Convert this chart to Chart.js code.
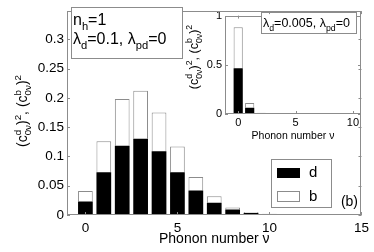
<!DOCTYPE html>
<html>
<head>
<meta charset="utf-8">
<script src="https://cdn.jsdelivr.net/npm/chart.js@4"></script>
<style>
html, body { margin: 0; padding: 0; background: #fff; }
#wrap { position: relative; width: 374px; height: 252px; }
#inset { position: absolute; left: 181px; top: 6px; z-index: 1; }
#main { position: absolute; left: 0; top: 0; z-index: 2; }
</style>
</head>
<body>
<div id="wrap">
  <canvas id="inset" width="181" height="136"></canvas>
  <canvas id="main" width="374" height="252"></canvas>
</div>
<script>
// main panel: n_h=1, lambda_d=0.1
const nu = [0, 1, 2, 3, 4, 5, 6, 7, 8, 9, 10, 11, 12];
const dMain = [0.023, 0.073, 0.118, 0.130, 0.109, 0.073, 0.042, 0.021, 0.0094, 0.0033, 0.0015, 0.0007, 0.0003];
const bMain = [0.018, 0.053, 0.080, 0.082, 0.066, 0.044, 0.023, 0.011, 0.0036, 0.0017, 0.0005, 0.0003, 0.0001];
const xTicksMain = [0, 5, 10, 15];
const yTicksMain = [0, 0.05, 0.1, 0.15, 0.2, 0.25, 0.3];

// inset: lambda_d=0.005
const nuInset = [0, 1, 2];
const dInset = [0.465, 0.064, 0.009];
const bInset = [0.417, 0.048, 0.003];
const xTicksInset = [0, 5, 10];
const yTicksInset = [0, 0.5, 1];

const FONT = '"Liberation Sans", Arial, sans-serif';
const AXIS = '#8c8c8c';

// draws text with super/subscripts; parts: {t} or {sup, sub}
function richWidth(ctx, parts, size) {
    let w = 0;
    parts.forEach(p => {
        if (p.t) { ctx.font = size + 'px ' + FONT; w += ctx.measureText(p.t).width; }
        else {
            ctx.font = (size * 0.7) + 'px ' + FONT;
            w += Math.max(p.sup ? ctx.measureText(p.sup).width : 0, p.sub ? ctx.measureText(p.sub).width : 0);
        }
    });
    return w;
}
function drawRich(ctx, x, y, parts, size) {
    ctx.textBaseline = 'alphabetic';
    ctx.textAlign = 'left';
    ctx.fillStyle = '#000';
    parts.forEach(p => {
        if (p.t) {
            ctx.font = size + 'px ' + FONT;
            ctx.fillText(p.t, x, y);
            x += ctx.measureText(p.t).width;
        } else {
            ctx.font = (size * 0.7) + 'px ' + FONT;
            let w = 0;
            if (p.sup) { ctx.fillText(p.sup, x, y - size * 0.45); w = ctx.measureText(p.sup).width; }
            if (p.sub) { ctx.fillText(p.sub, x, y + size * 0.3); w = Math.max(w, ctx.measureText(p.sub).width); }
            x += w;
        }
    });
}

const yLabelParts = [
    {t: '(c'}, {sup: 'd', sub: '0ν'}, {t: ')'}, {sup: '2'},
    {t: ', (c'}, {sup: 'b', sub: '0ν'}, {t: ')'}, {sup: '2'}
];

function framePlugin(extra) {
    return {
        id: 'frame',
        afterDraw(chart) {
            const ctx = chart.ctx, a = chart.chartArea, sx = chart.scales.x, sy = chart.scales.y;
            ctx.save();
            ctx.strokeStyle = AXIS;
            ctx.lineWidth = 1;
            ctx.strokeRect(Math.round(a.left) + 0.5, Math.round(a.top) + 0.5,
                Math.round(a.right - a.left) - 1, Math.round(a.bottom - a.top) - 1);
            ctx.beginPath();
            sx.ticks.forEach(t => {
                const p = Math.round(sx.getPixelForValue(t.value)) + 0.5;
                ctx.moveTo(p, a.bottom); ctx.lineTo(p, a.bottom - 3);
                ctx.moveTo(p, a.top); ctx.lineTo(p, a.top + 3);
            });
            sy.ticks.forEach(t => {
                const p = Math.round(sy.getPixelForValue(t.value)) + 0.5;
                ctx.moveTo(a.left, p); ctx.lineTo(a.left + 3, p);
                ctx.moveTo(a.right, p); ctx.lineTo(a.right - 3, p);
            });
            ctx.stroke();
            extra(ctx, chart);
            ctx.restore();
        }
    };
}

function barSets(xs, d, b) {
    return [
        { label: 'd', data: xs.map((x, i) => ({x: x, y: d[i]})), backgroundColor: '#000', borderWidth: 0,
          barPercentage: 0.8, categoryPercentage: 1 },
        { label: 'b', data: xs.map((x, i) => ({x: x, y: b[i]})), backgroundColor: '#fff', borderColor: AXIS,
          borderWidth: 1, barPercentage: 0.8, categoryPercentage: 1 }
    ];
}

function axes(xr, yr, xt, yt, yw, xh, tickSize, titleSize, pad) {
    return {
        x: {
            type: 'linear', stacked: true, offset: false, min: xr[0], max: xr[1],
            afterBuildTicks: s => { s.ticks = xt.map(v => ({value: v})); },
            afterFit: s => { s.height = xh; },
            grid: { display: false, drawTicks: false, offset: false }, border: { display: false },
            ticks: { autoSkip: false, maxRotation: 0, padding: pad, color: '#000', font: { family: FONT, size: tickSize } },
            title: { display: true, text: 'Phonon number ν', color: '#000', padding: 0, font: { family: FONT, size: titleSize } }
        },
        y: {
            stacked: true, min: yr[0], max: yr[1],
            afterBuildTicks: s => { s.ticks = yt.map(v => ({value: v})); },
            afterFit: s => { s.width = yw; },
            grid: { display: false, drawTicks: false }, border: { display: false },
            ticks: { padding: 3, color: '#000', font: { family: FONT, size: tickSize }, callback: v => String(v) }
        }
    };
}

new Chart(document.getElementById('main'), {
    type: 'bar',
    data: { datasets: barSets(nu, dMain, bMain) },
    options: {
        responsive: false, animation: false,
        layout: { padding: { top: 4, right: 12, left: 0, bottom: 4 } },
        plugins: { legend: { display: false }, tooltip: { enabled: false } },
        scales: axes([-1, 15], [0, 0.348], xTicksMain, yTicksMain, 67, 33, 13.5, 14, 5)
    },
    plugins: [framePlugin((ctx) => {
        // y title
        ctx.save();
        ctx.translate(27, 111);
        ctx.rotate(-Math.PI / 2);
        drawRich(ctx, -richWidth(ctx, yLabelParts, 14) / 2, 0, yLabelParts, 14);
        ctx.restore();
        // parameter box
        ctx.fillStyle = '#fff';
        ctx.fillRect(71.5, 7.5, 111, 51);
        ctx.strokeStyle = AXIS;
        ctx.strokeRect(71.5, 7.5, 111, 51);
        drawRich(ctx, 73, 25, [{t: 'n'}, {sub: 'h'}, {t: '=1'}], 16);
        drawRich(ctx, 73, 44, [{t: 'λ'}, {sub: 'd'}, {t: '=0.1, λ'}, {sub: 'pd'}, {t: '=0'}], 16);
        // legend
        ctx.strokeStyle = AXIS;
        ctx.fillStyle = '#fff';
        ctx.fillRect(271.5, 159.5, 60, 48);
        ctx.strokeRect(271.5, 159.5, 60, 48);
        ctx.fillStyle = '#000';
        ctx.fillRect(277, 168, 23, 10);
        ctx.strokeRect(277.5, 191.5, 22, 10);
        ctx.font = '15px ' + FONT;
        ctx.textBaseline = 'middle';
        ctx.textAlign = 'left';
        ctx.fillText('d', 309, 173);
        ctx.fillText('b', 309, 197);
        ctx.font = '14px ' + FONT;
        ctx.textAlign = 'right';
        ctx.textBaseline = 'alphabetic';
        ctx.fillText('(b)', 358, 206);
    })]
});

new Chart(document.getElementById('inset'), {
    type: 'bar',
    data: { datasets: barSets(nuInset, dInset, bInset) },
    options: {
        responsive: false, animation: false,
        layout: { padding: { top: 4, right: 1, left: 0, bottom: 0 } },
        plugins: { legend: { display: false }, tooltip: { enabled: false } },
        scales: axes([-1.15, 10.7], [0, 1], xTicksInset, yTicksInset, 44, 28, 11, 10.5, 2)
    },
    plugins: [framePlugin((ctx) => {
        ctx.save();
        ctx.translate(17, 51);
        ctx.rotate(-Math.PI / 2);
        drawRich(ctx, -richWidth(ctx, yLabelParts, 12.5) / 2, 0, yLabelParts, 12.5);
        ctx.restore();
        ctx.fillStyle = '#fff';
        ctx.fillRect(80.5, 6.5, 95, 21);
        ctx.strokeStyle = AXIS;
        ctx.strokeRect(80.5, 6.5, 95, 21);
        drawRich(ctx, 82, 21, [{t: 'λ'}, {sub: 'd'}, {t: '=0.005, λ'}, {sub: 'pd'}, {t: '=0'}], 12.5);
    })]
});
</script>
</body>
</html>
